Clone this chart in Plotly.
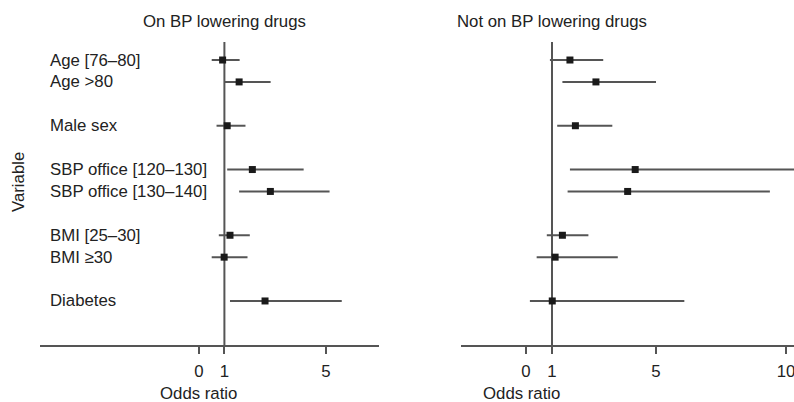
import plotly.graph_objects as go

# ---- data ----
variables = ["Age [76–80]", "Age >80", "Male sex", "SBP office [120–130]",
             "SBP office [130–140]", "BMI [25–30]", "BMI ≥30", "Diabetes"]
rows = [0, 1, 3, 5, 6, 8, 9, 11]

on_or = [0.93, 1.58, 1.11, 2.10, 2.81, 1.22, 0.99, 2.60]
on_lo = [0.50, 1.02, 0.69, 1.11, 1.58, 0.78, 0.50, 1.22]
on_hi = [1.60, 2.82, 1.83, 4.12, 5.14, 2.00, 1.91, 5.62]

off_or = [1.69, 2.69, 1.90, 4.20, 3.91, 1.40, 1.12, 1.01]
off_lo = [0.92, 1.40, 1.20, 1.69, 1.60, 0.80, 0.41, 0.15]
off_hi = [2.97, 5.00, 3.32, 11.5, 9.38, 2.40, 3.53, 6.09]

left_ticks = [0, 1, 5]
right_ticks = [0, 1, 5, 10]

W, H = 794, 402
FONT = "Liberation Sans, Arial, sans-serif"
FS = 16.8
TXT = "#222222"
LINE = "#555555"

fig = go.Figure()

def add_panel(orv, lo, hi, xa, ya):
    fig.add_trace(go.Scatter(
        x=orv, y=rows, mode="markers", xaxis=xa, yaxis=ya,
        marker=dict(symbol="square", size=7, color="#1a1a1a"),
        error_x=dict(type="data", symmetric=False,
                     array=[h - o for h, o in zip(hi, orv)],
                     arrayminus=[o - l for o, l in zip(orv, lo)],
                     color=LINE, thickness=2, width=0),
        showlegend=False, hoverinfo="skip"))

add_panel(on_or, on_lo, on_hi, "x", "y")
add_panel(off_or, off_lo, off_hi, "x2", "y2")

ybottom = (H - 345) / H
yrange = [13.01, -2.74]

xcommon = dict(showgrid=False, zeroline=False, showline=True, linecolor=LINE,
               linewidth=2, ticks="outside", ticklen=7, tickwidth=2,
               tickcolor=LINE, tickfont=dict(family=FONT, size=FS, color=TXT),
               ticklabelstandoff=3, ticklabeloverflow="allow")

fig.update_layout(
    width=W, height=H, margin=dict(l=0, r=0, t=0, b=0),
    paper_bgcolor="white", plot_bgcolor="white",
    font=dict(family=FONT, size=FS, color=TXT),
    xaxis=dict(domain=[40 / W, 379 / W], range=[(40 - 199) / 25.4, (379 - 199) / 25.4],
               tickvals=left_ticks, **xcommon),
    xaxis2=dict(domain=[461 / W, 1.0], range=[(461 - 526) / 26.0, (794 - 526) / 26.0],
                tickvals=right_ticks, **xcommon),
    yaxis=dict(domain=[ybottom, 1.0], range=yrange, visible=False, anchor="x"),
    yaxis2=dict(domain=[ybottom, 1.0], range=yrange, visible=False, anchor="x2"),
)

# OR = 1 reference lines
for xr, yr in [("x", "y"), ("x2", "y2")]:
    fig.add_shape(type="line", xref=xr, yref=yr, x0=1, x1=1, y0=-0.82, y1=13.01,
                  line=dict(color=LINE, width=2), layer="below")

# variable labels
for v, r in zip(variables, rows):
    fig.add_annotation(text=v, xref="paper", yref="y", x=48 / W, y=r,
                       xanchor="left", yanchor="middle", showarrow=False,
                       font=dict(family=FONT, size=FS, color=TXT))

# titles
fig.add_annotation(text="On BP lowering drugs", xref="x", yref="paper", x=1,
                   y=1 - 22 / H, xanchor="center", yanchor="middle", showarrow=False)
fig.add_annotation(text="Not on BP lowering drugs", xref="x2", yref="paper", x=1,
                   y=1 - 22 / H, xanchor="center", yanchor="middle", showarrow=False)

# axis titles
fig.add_annotation(text="Odds ratio", xref="paper", yref="paper", x=198 / W,
                   y=1 - 393 / H, xanchor="center", yanchor="middle", showarrow=False)
fig.add_annotation(text="Odds ratio", xref="paper", yref="paper", x=521 / W,
                   y=1 - 393 / H, xanchor="center", yanchor="middle", showarrow=False)
fig.add_annotation(text="Variable", xref="paper", yref="paper", x=18 / W,
                   y=1 - 182 / H, xanchor="center", yanchor="middle", textangle=-90,
                   showarrow=False)

fig.write_html("out.html", config={"displayModeBar": False},
               post_script="document.body.style.margin='0';")
